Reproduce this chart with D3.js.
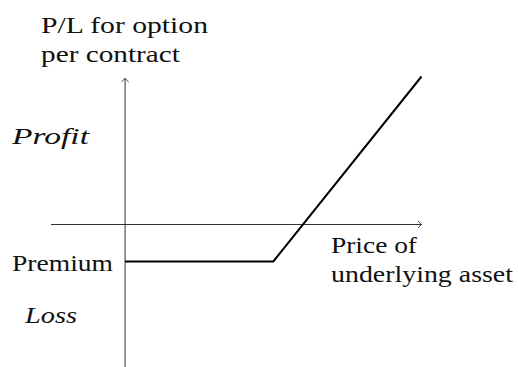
<!DOCTYPE html>
<html><head><meta charset="utf-8">
<script src="https://cdn.jsdelivr.net/npm/d3@7"></script>
<style>
html,body{margin:0;padding:0;background:#fff;}
#wrap{position:relative;width:518px;height:367px;overflow:hidden;}
#c{position:absolute;left:0;top:0;}
.lbl{position:absolute;white-space:nowrap;font-family:'Liberation Serif','Times New Roman',Times,serif;font-size:22px;line-height:22px;color:#111;transform-origin:0 100%;}
</style>
</head><body>
<div id="wrap"><svg id="c" width="518" height="367"></svg></div>
<script>
// Data
const price = [0, 4, 8];          // underlying price (strike at 4)
const profitLoss = [-1, -1, 4];   // P/L per contract (premium = 1)
const xAxisExtent = [-2, 8];
const yAxisExtent = [-3.9, 3.95];
const yTitleLines = ["P/L for option", "per contract"];
const xTitleLines = ["Price of", "underlying asset"];
const sideLabels = ["Profit", "Premium", "Loss"];

const svg = d3.select("#c");
const x = d3.scaleLinear().domain([-2, 8]).range([51, 421.5]);
const y = d3.scaleLinear().domain([-1, 4]).range([261.5, 76.5]);

// axes
const arrowHead = (tx, ty, dx, dy) => {
  const px = -dy, py = dx;
  return `M${tx - 3.5*dx + 3.5*px},${ty - 3.5*dy + 3.5*py} Q${tx - dx + 0.8*px},${ty - dy + 0.8*py} ${tx},${ty} Q${tx - dx - 0.8*px},${ty - dy - 0.8*py} ${tx - 3.5*dx - 3.5*px},${ty - 3.5*dy - 3.5*py}`;
};
svg.append("line").attr("x1",x(xAxisExtent[0])).attr("x2",x(xAxisExtent[1]))
  .attr("y1",y(0)).attr("y2",y(0)).attr("stroke","#333").attr("stroke-width",1);
svg.append("path").attr("d", arrowHead(x(xAxisExtent[1]), y(0), 1, 0))
  .attr("fill","none").attr("stroke","#222").attr("stroke-width",0.9);
svg.append("line").attr("x1",x(0)).attr("x2",x(0))
  .attr("y1",y(yAxisExtent[0])).attr("y2",y(yAxisExtent[1])).attr("stroke","#333").attr("stroke-width",1);
svg.append("path").attr("d", arrowHead(x(0), y(yAxisExtent[1]), 0, -1))
  .attr("fill","none").attr("stroke","#222").attr("stroke-width",0.9);

// payoff
const pts = price.map((p,i)=>[p, profitLoss[i]]);
svg.append("path").attr("d", d3.line().x(d=>x(d[0])).y(d=>y(d[1]))(pts))
  .attr("fill","none").attr("stroke","#000").attr("stroke-width",2);

// labels as HTML text (baseline ~ bottom of 22px line box minus descent ~5px)
const wrap = d3.select("#wrap");
function txt(s, px, baseline, len, italic){
  const d = wrap.append("div").attr("class","lbl").text(s)
    .style("left", px + "px").style("top", (baseline - 17) + "px")
    .style("font-style", italic ? "italic" : "normal");
  const w = d.node().getBoundingClientRect().width;
  if (w > 0) d.style("transform", `scale(${len / w},1.06)`);
}
txt(yTitleLines[0], 41, 32, 167);
txt(yTitleLines[1], 41, 61, 139);
txt(xTitleLines[0], 330.5, 252.3, 86);
txt(xTitleLines[1], 330.5, 280.7, 182);
txt(sideLabels[0], 12, 143, 77, true);
txt(sideLabels[1], 12, 270, 101);
txt(sideLabels[2], 25, 321.5, 52, true);
</script>
</body></html>
